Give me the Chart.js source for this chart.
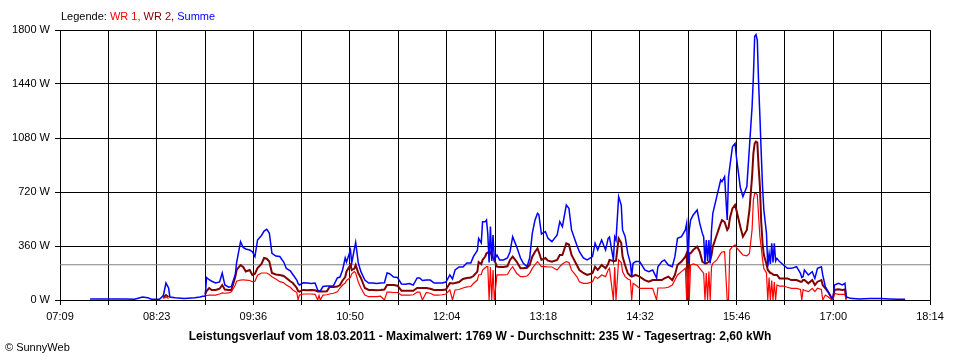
<!DOCTYPE html>
<html lang="de">
<head>
<meta charset="utf-8">
<title>Leistungsverlauf 18.03.2011</title>
<script src="https://cdn.jsdelivr.net/npm/chart.js@4.4.1/dist/chart.umd.min.js"></script>
<style>
  html, body { margin: 0; padding: 0; background: #fff; }
  #wrap { position: relative; width: 960px; height: 360px; font-family: "Liberation Sans", Arial, sans-serif; font-size: 11px; color: #000; }
  #wrap canvas { position: absolute; left: 0; top: 0; }
  .legende { position: absolute; left: 61px; top: 10px; white-space: pre; }
  .titel { position: absolute; left: 0; top: 329px; width: 960px; text-align: center; font-weight: bold; font-size: 12px; }
  .copy { position: absolute; left: 5px; top: 341px; }
</style>
</head>
<body>
<div id="wrap">
  <canvas id="chart" width="960" height="360"></canvas>
  <div class="legende">Legende: <span style="color:#ff0000">WR 1,</span> <span style="color:#800000">WR 2,</span> <span style="color:#0000ff">Summe</span></div>
  <div class="titel">Leistungsverlauf vom 18.03.2011 - Maximalwert: 1769 W - Durchschnitt: 235 W - Tagesertrag: 2,60 kWh</div>
  <div class="copy">&copy; SunnyWeb</div>
</div>
<script>
// Achsenbeschriftung
const tickLabels = ["07:09", "08:23", "09:36", "10:50", "12:04", "13:18", "14:32", "15:46", "17:00", "18:14"];
const yTicks = [0, 360, 720, 1080, 1440, 1800];
const durchschnitt = 235;

// Messzeitpunkte (in W)
const zeit = [
  "07:32", "07:40", "07:51", "07:59", "08:06", "08:12", "08:16", "08:19", "08:25", "08:28",
  "08:30", "08:32", "08:33", "08:37", "08:44", "08:52", "08:56", "08:58", "09:00", "09:01",
  "09:03", "09:05", "09:08", "09:11", "09:13", "09:15", "09:18", "09:20", "09:23", "09:24",
  "09:27", "09:29", "09:31", "09:34", "09:36", "09:38", "09:40", "09:43", "09:45", "09:47",
  "09:49", "09:51", "09:54", "09:57", "10:00", "10:02", "10:05", "10:07", "10:10", "10:11",
  "10:12", "10:15", "10:18", "10:21", "10:24", "10:26", "10:27", "10:28", "10:30", "10:33",
  "10:35", "10:38", "10:41", "10:43", "10:45", "10:47", "10:48", "10:51", "10:52", "10:54",
  "10:55", "10:57", "10:59", "11:02", "11:05", "11:08", "11:11", "11:14", "11:17", "11:19",
  "11:21", "11:24", "11:27", "11:30", "11:33", "11:36", "11:39", "11:42", "11:44", "11:46",
  "11:49", "11:52", "11:55", "11:58", "12:01", "12:04", "12:07", "12:09", "12:11", "12:14",
  "12:17", "12:20", "12:23", "12:25", "12:28", "12:29", "12:31", "12:32", "12:34", "12:35",
  "12:36", "12:37", "12:38", "12:39", "12:40", "12:41", "12:43", "12:45", "12:48", "12:51",
  "12:53", "12:55", "12:58", "13:01", "13:03", "13:06", "13:08", "13:10", "13:12", "13:14",
  "13:15", "13:17", "13:20", "13:22", "13:25", "13:29", "13:31", "13:33", "13:36", "13:38",
  "13:40", "13:44", "13:46", "13:49", "13:52", "13:56", "13:58", "14:00", "14:03", "14:06",
  "14:08", "14:09", "14:12", "14:13", "14:14", "14:16", "14:18", "14:19", "14:21", "14:23",
  "14:25", "14:26", "14:27", "14:29", "14:32", "14:36", "14:39", "14:42", "14:45", "14:46",
  "14:49", "14:51", "14:54", "14:57", "14:59", "15:01", "15:04", "15:07", "15:08", "15:09",
  "15:10", "15:11", "15:13", "15:16", "15:18", "15:20", "15:21", "15:22", "15:23", "15:24",
  "15:25", "15:26", "15:27", "15:28", "15:31", "15:34", "15:35", "15:37", "15:39", "15:40",
  "15:41", "15:43", "15:45", "15:46", "15:49", "15:51", "15:54", "15:56", "15:58", "15:59",
  "16:00", "16:01", "16:02", "16:03", "16:04", "16:05", "16:06", "16:07", "16:09", "16:10",
  "16:11", "16:12", "16:13", "16:14", "16:15", "16:16", "16:17", "16:19", "16:22", "16:25",
  "16:28", "16:32", "16:35", "16:36", "16:37", "16:38", "16:41", "16:44", "16:46", "16:48",
  "16:51", "16:52", "16:54", "16:56", "16:59", "17:00", "17:01", "17:04", "17:07", "17:09",
  "17:10", "17:13", "17:20", "17:28", "17:36", "17:43", "17:50", "17:55"
];

const summe = [
  7, 7, 7, 7, 5, 20, 15, 5, 5, 30,
  113, 80, 20, 15, 10, 15, 20, 25, 25, 150,
  135, 125, 113, 120, 180, 100, 85, 90, 170, 250,
  389, 350, 340, 333, 322, 289, 400, 430, 460, 471,
  447, 311, 293, 290, 253, 210, 195, 170, 133, 110,
  100, 115, 113, 110, 113, 65, 60, 60, 90, 93,
  93, 95, 147, 153, 200, 280, 253, 333, 247, 340,
  384, 247, 189, 133, 113, 113, 110, 113, 115, 180,
  175, 153, 150, 107, 105, 110, 100, 147, 147, 130,
  133, 133, 113, 113, 113, 120, 167, 140, 200, 220,
  220, 247, 247, 289, 330, 411, 380, 522, 522, 533,
  440, 250, 489, 260, 433, 267, 300, 267, 267, 280,
  322, 422, 356, 280, 247, 222, 280, 444, 530, 578,
  570, 440, 456, 411, 389, 433, 522, 489, 633, 611,
  467, 367, 322, 280, 267, 289, 378, 333, 400, 333,
  411, 420, 267, 420, 400, 689, 633, 467, 422, 311,
  244, 156, 244, 256, 256, 200, 189, 200, 147, 222,
  256, 267, 233, 222, 289, 411, 422, 467, 511, 244,
  467, 533, 567, 600, 511, 444, 420, 244, 400, 260,
  400, 244, 467, 578, 689, 800, 789, 822, 533, 822,
  889, 1022, 1044, 956, 750, 689, 756, 1022, 1289, 1489,
  1756, 1769, 1733, 1444, 1222, 978, 756, 600, 444, 222,
  311, 240, 378, 250, 378, 260, 278, 256, 233, 211,
  211, 222, 178, 150, 156, 200, 167, 189, 144, 211,
  222, 167, 89, 56, 10, 20, 100, 111, 100, 111,
  22, 11, 7, 10, 10, 7, 5, 5
];

const wr2 = [
  null, null, null, null, null, null, null, null, null, 15,
  33, 20, null, null, null, null, null, null, 40, 60,
  80, 67, 67, 75, 100, 70, 67, 67, 155, 200,
  233, 220, 190, 200, 167, 175, 213, 240, 280, 275,
  256, 180, 170, 167, 160, 147, 125, 113, 80, 60,
  56, 67, 65, 67, 65, 56, 56, 56, 56, 58,
  87, 87, 90, 100, 130, 153, 190, 233, 200, 210,
  233, 180, 147, 80, 67, 67, 65, 67, 70, 100,
  100, 100, 95, 62, 62, 62, 62, 80, 80, 80,
  80, 75, 67, 67, 67, 70, 113, 110, 113, 120,
  140, 147, 150, 160, 189, 253, 240, 267, 290, 311,
  315, 322, 320, 300, 280, 267, 222, 220, 220, 225,
  267, 289, 256, 211, 211, 215, 233, 289, 320, 344,
  320, 267, 280, 262, 256, 267, 300, 300, 378, 370,
  300, 233, 200, 180, 167, 178, 222, 200, 233, 211,
  240, 267, 260, 260, 262, 411, 380, 289, 230, 178,
  160, 156, 160, 167, 156, 133, 122, 133, 133, 133,
  133, 144, 156, 133, 167, 233, 256, 289, 311, 0,
  311, 311, 333, 356, 322, 256, 250, 244, 244, 250,
  255, 267, 300, 356, 433, 511, 533, 520, 467, 480,
  544, 611, 633, 600, 489, 422, 467, 600, 822, 978,
  1044, 1056, 1050, 889, 756, 520, 380, 300, 240, 200,
  190, 180, 178, 170, 167, 167, 167, 144, 144, 144,
  133, 133, 122, 122, 133, 133, 111, 133, 100, 122,
  133, 100, 78, 56, 10, 20, 67, 72, 67, 70,
  5, null, null, null, null, null, null, null
];

const wr1 = [
  null, null, null, null, null, null, null, null, null, 10,
  20, 10, null, null, null, null, null, null, 25, 30,
  33, 33, 33, 40, 47, 45, 47, 55, 100, 125,
  133, 135, 133, 130, 122, 125, 165, 180, 180, 180,
  170, 155, 140, 122, 115, 100, 85, 67, 50, 0,
  33, 40, 40, 40, 38, 0, 30, 0, 33, 35,
  40, 45, 55, 80, 100, 113, 130, 150, 175, 189,
  180, 120, 80, 33, 22, 22, 22, 25, 0, 53,
  53, 50, 50, 33, 33, 33, 35, 53, 53, 0,
  50, 45, 33, 33, 35, 40, 67, 0, 67, 70,
  80, 87, 90, 110, 133, 167, 170, 200, 215, 222,
  222, 0, 220, 0, 200, 0, 167, 167, 167, 170,
  200, 222, 178, 156, 156, 160, 178, 211, 235, 256,
  245, 222, 222, 220, 220, 200, 222, 240, 256, 250,
  200, 156, 122, 111, 111, 122, 156, 144, 167, 156,
  200, 211, 0, 220, 0, 267, 250, 189, 156, 140,
  133, 0, 111, 100, 78, 78, 78, 78, 0, 80,
  80, 80, 85, 100, 133, 167, 189, 211, 0, 211,
  0, 233, 240, 233, 211, 190, 178, 0, 180, 0,
  190, 0, 222, 244, 267, 311, 320, 322, 0, 0,
  333, 356, 367, 350, 320, 300, 295, 311, 467, 667,
  711, 711, 700, 560, 422, 350, 270, 210, 180, 0,
  150, 0, 130, 0, 120, 0, 100, 93, 93, 85,
  78, 78, 71, 0, 70, 65, 56, 78, 56, 78,
  70, 0, 33, 22, 0, 10, 44, 38, 38, 38,
  3, null, null, null, null, null, null, null
];

const schrift = { family: "'Liberation Sans', Arial, sans-serif", size: 11 };

function minuten(t) {
  const [h, m] = t.split(":").map(Number);
  return h * 60 + m;
}

const xMin = minuten(tickLabels[0]);
const xMax = minuten(tickLabels[tickLabels.length - 1]);
const rasterSchritt = (xMax - xMin) / ((tickLabels.length - 1) * 2);

function punkte(werte) {
  return zeit.map((t, i) => ({ x: minuten(t), y: werte[i] }));
}

function linie(label, werte, farbe, breite, order) {
  return {
    label,
    data: punkte(werte),
    borderColor: farbe,
    borderWidth: breite,
    pointRadius: 0,
    tension: 0,
    spanGaps: false,
    order
  };
}

new Chart(document.getElementById("chart"), {
  type: "line",
  data: {
    datasets: [
      linie("Summe", summe, "#0000ff", 1.5, 0),
      linie("WR 1", wr1, "#ff0000", 1.2, 1),
      linie("WR 2", wr2, "#800000", 2, 2),
      {
        label: "Durchschnitt",
        data: [{ x: xMin, y: durchschnitt }, { x: xMax, y: durchschnitt }],
        borderColor: "#808080",
        borderWidth: 1,
        pointRadius: 0,
        order: 3
      }
    ]
  },
  options: {
    responsive: false,
    animation: false,
    events: [],
    layout: { padding: { top: 30, right: 30, left: 0, bottom: 0 } },
    plugins: { legend: { display: false }, tooltip: { enabled: false } },
    scales: {
      x: {
        type: "linear",
        min: xMin,
        max: xMax,
        afterFit: (s) => { s.height = 60; },
        afterBuildTicks: (s) => {
          s.ticks = Array.from({ length: (tickLabels.length - 1) * 2 + 1 }, (_, i) => ({ value: xMin + i * rasterSchritt }));
        },
        ticks: {
          autoSkip: false,
          maxRotation: 0,
          padding: 5,
          color: "#000",
          font: schrift,
          callback: (v, i) => (i % 2 === 0 ? tickLabels[i / 2] : "")
        },
        grid: { color: "#000", lineWidth: 1, tickLength: 5 },
        border: { color: "#000", width: 1 }
      },
      y: {
        min: yTicks[0],
        max: yTicks[yTicks.length - 1],
        afterFit: (s) => { s.width = 60; },
        afterBuildTicks: (s) => { s.ticks = yTicks.map((v) => ({ value: v })); },
        ticks: {
          padding: 5,
          color: "#000",
          font: schrift,
          callback: (v) => v + " W"
        },
        grid: { color: "#000", lineWidth: 1, tickLength: 5 },
        border: { color: "#000", width: 1 }
      }
    }
  }
});
</script>
</body>
</html>
